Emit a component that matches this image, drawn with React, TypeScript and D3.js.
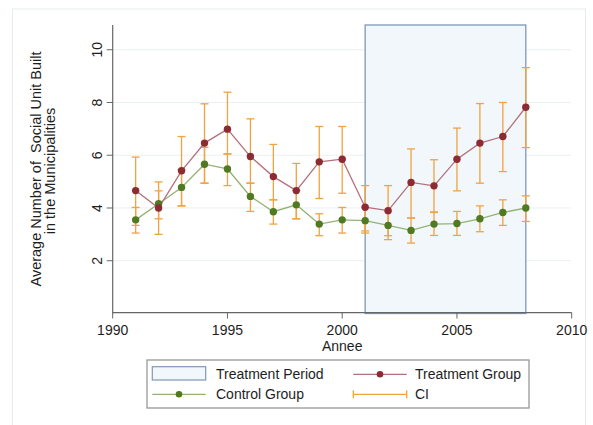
import React from "react";
import * as d3 from "d3";

const years = [1991, 1992, 1993, 1994, 1995, 1996, 1997, 1998, 1999, 2000, 2001, 2002, 2003, 2004, 2005, 2006, 2007, 2008];
const treatment = [4.66, 4.0, 5.41, 6.46, 6.99, 5.95, 5.19, 4.66, 5.75, 5.85, 4.03, 3.9, 4.97, 4.84, 5.85, 6.46, 6.71, 7.82];
const control = [3.55, 4.16, 4.78, 5.66, 5.48, 4.44, 3.86, 4.12, 3.39, 3.55, 3.52, 3.34, 3.15, 3.39, 3.41, 3.59, 3.83, 4.0];
const treatLow = [3.34, 3.0, 4.08, 4.94, 6.05, 4.94, 4.31, 3.59, 4.36, 4.56, 3.13, 2.95, 3.62, 3.85, 4.65, 4.94, 5.38, 6.29];
const treatHigh = [5.93, 4.99, 6.71, 7.95, 8.39, 7.38, 6.41, 5.69, 7.09, 7.09, 4.85, 4.85, 6.24, 5.83, 7.03, 7.96, 8.0, 9.32];
const ctrlLow = [3.05, 3.59, 4.08, 4.94, 4.85, 3.87, 3.39, 3.59, 2.95, 3.05, 3.05, 2.8, 2.67, 2.96, 2.96, 3.1, 3.34, 3.49];
const ctrlHigh = [4.02, 4.65, 5.45, 6.3, 6.05, 4.94, 4.31, 4.66, 3.78, 4.02, 4.03, 3.88, 3.62, 3.83, 3.87, 4.08, 4.31, 4.46];
const treatmentPeriod = [2001, 2008];
const xTicks = [1990, 1995, 2000, 2005, 2010];
const yTicks = [2, 4, 6, 8, 10];
const xDomain = [1990, 2010];
const yDomain = [0, 10.9];

const FONT = "'Liberation Sans', Arial, sans-serif";
const TEXT = "#1e1e1e";
const CI_COLOR = "#f2a241";
const T_LINE = "#b5707a";
const T_MARK = "#8c2b33";
const C_LINE = "#94b273";
const C_MARK = "#4f7a22";

export default function App() {
  const x = d3.scaleLinear().domain(xDomain).range([112.7, 571.7]);
  const y = d3.scaleLinear().domain(yDomain).range([313.5, 26]);
  const x0 = x(xDomain[0]);
  const y0 = y(0);

  const tLine = d3.line<number>().x((_, i) => x(years[i])).y((d) => y(d));
  const capW = 4;

  const ciGroup = (lo: number[], hi: number[], key: string) =>
    years.map((yr, i) => {
      const cx = x(yr);
      const a = y(lo[i]);
      const b = y(hi[i]);
      return (
        <g key={key + yr} stroke={CI_COLOR} strokeWidth={1.3} fill="none">
          <line x1={cx} x2={cx} y1={a} y2={b} />
          <line x1={cx - capW} x2={cx + capW} y1={a} y2={a} />
          <line x1={cx - capW} x2={cx + capW} y1={b} y2={b} />
        </g>
      );
    });

  return (
    <svg
      width={593}
      height={425}
      style={{ position: "absolute", left: 0, top: 0, background: "#fff" }}
      fontFamily={FONT}
    >
      <rect x={12.5} y={9} width={573} height={430} fill="#fff" stroke="#e4ecee" strokeWidth={1} />

      {/* grid */}
      {yTicks.map((t) => (
        <line key={"g" + t} x1={x0} x2={571} y1={y(t)} y2={y(t)} stroke="#eaf0f2" strokeWidth={1} />
      ))}

      {/* treatment period */}
      <rect
        x={x(treatmentPeriod[0])}
        y={y(yDomain[1]) - 1}
        width={x(treatmentPeriod[1]) - x(treatmentPeriod[0])}
        height={y0 - y(yDomain[1]) + 1}
        fill="#f2f7fb"
        stroke="#7f98b6"
        strokeWidth={1.3}
      />

      {/* axes */}
      <line x1={x0} x2={x0} y1={y(yDomain[1]) - 1} y2={y0} stroke="#666" strokeWidth={1.2} />
      <line x1={x0} x2={x(xDomain[1])} y1={312.7} y2={312.7} stroke="#666" strokeWidth={1.2} />
      {yTicks.map((t) => (
        <g key={"yt" + t}>
          <line x1={x0 - 6} x2={x0} y1={y(t)} y2={y(t)} stroke="#666" strokeWidth={1} />
          <text
            transform={`translate(102,${y(t)}) rotate(-90)`}
            textAnchor="middle"
            fontSize={14}
            fill={TEXT}
          >
            {t}
          </text>
        </g>
      ))}
      {xTicks.map((t) => (
        <g key={"xt" + t}>
          <line x1={x(t)} x2={x(t)} y1={312.7} y2={318.5} stroke="#666" strokeWidth={1} />
          <text x={x(t)} y={335} textAnchor="middle" fontSize={14} fill={TEXT}>
            {t}
          </text>
        </g>
      ))}
      <text x={(x(xDomain[0]) + x(xDomain[1])) / 2} y={350.5} textAnchor="middle" fontSize={14} fill={TEXT}>
        Annee
      </text>
      <text
        transform="translate(41,169) rotate(-90)"
        textAnchor="middle"
        fontSize={14.5}
        fill={TEXT}
        style={{ whiteSpace: "pre" }}
      >
        Average Number of  Social Unit Built
      </text>
      <text transform="translate(55,171) rotate(-90)" textAnchor="middle" fontSize={14.5} fill={TEXT}>
        in the Municipalities
      </text>

      {/* CIs */}
      {ciGroup(treatLow, treatHigh, "t")}
      {ciGroup(ctrlLow, ctrlHigh, "c")}

      {/* series */}
      <path d={tLine(control) || ""} fill="none" stroke={C_LINE} strokeWidth={1.3} />
      <path d={tLine(treatment) || ""} fill="none" stroke={T_LINE} strokeWidth={1.3} />
      {control.map((v, i) => (
        <circle key={"cm" + i} cx={x(years[i])} cy={y(v)} r={3.7} fill={C_MARK} />
      ))}
      {treatment.map((v, i) => (
        <circle key={"tm" + i} cx={x(years[i])} cy={y(v)} r={3.7} fill={T_MARK} />
      ))}

      {/* legend */}
      <rect x={147} y={360} width={382} height={48} fill="#fff" stroke="#999" strokeWidth={1.3} />
      <rect x={152.3} y={366.7} width={53.4} height={13.3} fill="#f2f7fb" stroke="#7f98b6" strokeWidth={1.2} />
      <text x={216} y={378.5} fontSize={14} fill={TEXT}>Treatment Period</text>
      <line x1={353.3} x2={406.7} y1={374.3} y2={374.3} stroke={T_LINE} strokeWidth={1.3} />
      <circle cx={380} cy={374.3} r={3.3} fill={T_MARK} />
      <text x={415} y={378.5} fontSize={14} fill={TEXT}>Treatment Group</text>
      <line x1={152.3} x2={205.7} y1={394.3} y2={394.3} stroke={C_LINE} strokeWidth={1.3} />
      <circle cx={179} cy={394.3} r={3.3} fill={C_MARK} />
      <text x={216} y={399} fontSize={14} fill={TEXT}>Control Group</text>
      <g stroke={CI_COLOR} strokeWidth={1.3}>
        <line x1={353.3} x2={406.7} y1={394.3} y2={394.3} />
        <line x1={353.3} x2={353.3} y1={390.3} y2={398.3} />
        <line x1={406.7} x2={406.7} y1={390.3} y2={398.3} />
      </g>
      <text x={415} y={399} fontSize={14} fill={TEXT}>CI</text>
    </svg>
  );
}
